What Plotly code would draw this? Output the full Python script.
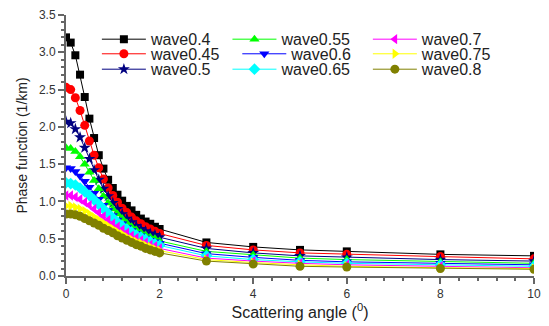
import plotly.graph_objects as go

# Scattering angle (degrees) at which the phase function was sampled
angle = [0.0, 0.1, 0.2, 0.3, 0.4, 0.5, 0.6, 0.7, 0.8, 0.9, 1.0,
         1.1, 1.2, 1.3, 1.4, 1.5, 1.6, 1.7, 1.8, 1.9, 2.0,
         3, 4, 5, 6, 8, 10]

# Phase function (1/km) for each wavelength
wave_04 = [3.20, 3.13, 2.96, 2.70, 2.40, 2.11, 1.85, 1.62, 1.44, 1.29, 1.18,
           1.09, 1.01, 0.94, 0.88, 0.82, 0.77, 0.73, 0.70, 0.66, 0.63,
           0.45, 0.39, 0.35, 0.33, 0.29, 0.27]
wave_045 = [2.53, 2.50, 2.39, 2.22, 2.02, 1.81, 1.62, 1.45, 1.30, 1.18, 1.08,
            0.99, 0.91, 0.85, 0.79, 0.74, 0.70, 0.66, 0.63, 0.60, 0.57,
            0.41, 0.35, 0.31, 0.29, 0.26, 0.23]
wave_05 = [2.07, 2.05, 1.97, 1.86, 1.72, 1.57, 1.42, 1.29, 1.17, 1.07, 0.98,
           0.90, 0.83, 0.77, 0.72, 0.67, 0.63, 0.60, 0.57, 0.55, 0.52,
           0.37, 0.31, 0.27, 0.25, 0.22, 0.20]
wave_055 = [1.72, 1.71, 1.67, 1.60, 1.50, 1.39, 1.28, 1.17, 1.07, 0.98, 0.90,
            0.83, 0.77, 0.71, 0.66, 0.62, 0.58, 0.55, 0.52, 0.50, 0.47,
            0.33, 0.28, 0.24, 0.22, 0.19, 0.17]
wave_06 = [1.45, 1.44, 1.40, 1.34, 1.27, 1.19, 1.11, 1.03, 0.95, 0.88, 0.81,
           0.75, 0.70, 0.65, 0.61, 0.57, 0.54, 0.51, 0.48, 0.46, 0.44,
           0.30, 0.25, 0.21, 0.19, 0.17, 0.15]
wave_065 = [1.25, 1.24, 1.22, 1.18, 1.13, 1.08, 1.02, 0.96, 0.90, 0.84, 0.78,
            0.72, 0.67, 0.63, 0.59, 0.55, 0.52, 0.49, 0.46, 0.43, 0.41,
            0.27, 0.22, 0.19, 0.17, 0.15, 0.13]
wave_07 = [1.08, 1.08, 1.06, 1.03, 0.99, 0.95, 0.90, 0.85, 0.80, 0.75, 0.70,
           0.66, 0.62, 0.58, 0.54, 0.51, 0.48, 0.45, 0.42, 0.40, 0.37,
           0.24, 0.20, 0.17, 0.15, 0.13, 0.11]
wave_075 = [0.94, 0.94, 0.92, 0.90, 0.87, 0.83, 0.79, 0.75, 0.71, 0.67, 0.63,
            0.59, 0.56, 0.52, 0.49, 0.46, 0.44, 0.41, 0.39, 0.36, 0.34,
            0.22, 0.18, 0.15, 0.13, 0.11, 0.10]
wave_08 = [0.83, 0.83, 0.82, 0.80, 0.77, 0.74, 0.71, 0.68, 0.64, 0.61, 0.58,
           0.54, 0.51, 0.48, 0.45, 0.42, 0.40, 0.37, 0.35, 0.33, 0.31,
           0.20, 0.16, 0.13, 0.12, 0.10, 0.09]

series_names = ["wave0.4", "wave0.45", "wave0.5", "wave0.55", "wave0.6",
                "wave0.65", "wave0.7", "wave0.75", "wave0.8"]
series_values = [wave_04, wave_045, wave_05, wave_055, wave_06,
                 wave_065, wave_07, wave_075, wave_08]

colors = ["#000000", "#ff0000", "#000080", "#00ff00", "#0000ff",
          "#00ffff", "#ff00ff", "#ffff00", "#808000"]
symbols = ["square", "circle", "star", "triangle-up", "triangle-down",
           "diamond", "triangle-left", "triangle-right", "circle"]
sizes = [8, 9, 9, 9, 9, 9, 9, 9, 9]

# Legend entry placement (paper coords): three columns of three rows
legend_x = [0.066, 0.066, 0.066, 0.345, 0.366, 0.345, 0.645, 0.645, 0.645]
legend_y = [0.907, 0.851, 0.792, 0.907, 0.851, 0.792, 0.907, 0.851, 0.792]

FONT = "Arial, Liberation Sans, sans-serif"

fig = go.Figure()
layout_legends = {}
for i, (name, vals) in enumerate(zip(series_names, series_values)):
    key = "legend" if i == 0 else f"legend{i + 1}"
    fig.add_trace(go.Scatter(
        x=angle, y=vals, name=name, mode="lines+markers",
        line=dict(color=colors[i], width=1),
        marker=dict(symbol=symbols[i], color=colors[i], size=sizes[i],
                    line=dict(width=0)),
        legend=key,
    ))
    layout_legends[key] = dict(
        x=legend_x[i], y=legend_y[i], xanchor="left", yanchor="middle",
        bgcolor="rgba(0,0,0,0)", borderwidth=0,
        font=dict(family=FONT, size=16, color="#222222"),
        itemwidth=44, tracegroupgap=0,
    )

axis_common = dict(
    showline=True, linecolor="#666666", linewidth=2,
    ticks="outside", ticklen=6, tickwidth=1.5, tickcolor="#666666",
    showgrid=False, zeroline=False, mirror=False,
    tickfont=dict(family=FONT, size=12, color="#333333"),
)

fig.update_layout(
    width=549, height=326,
    margin=dict(l=66, r=8, t=15, b=49),
    paper_bgcolor="white", plot_bgcolor="white",
    showlegend=True,
    xaxis=dict(
        range=[0, 10], tickvals=[0, 2, 4, 6, 8, 10],
        minor=dict(dtick=0.4, ticks="outside", ticklen=3, tickcolor="#666666"),
        title=dict(text="Scattering angle (<sup>0</sup>)", standoff=5,
                   font=dict(family=FONT, size=16, color="#222222")),
        **axis_common,
    ),
    yaxis=dict(
        range=[0, 3.5], dtick=0.5, tickformat=".1f",
        minor=dict(dtick=0.1, ticks="outside", ticklen=3, tickcolor="#666666"),
        title=dict(text="Phase function (1/km)", standoff=8,
                   font=dict(family=FONT, size=14, color="#222222")),
        **axis_common,
    ),
    **layout_legends,
)

fig.write_html("out.html")
